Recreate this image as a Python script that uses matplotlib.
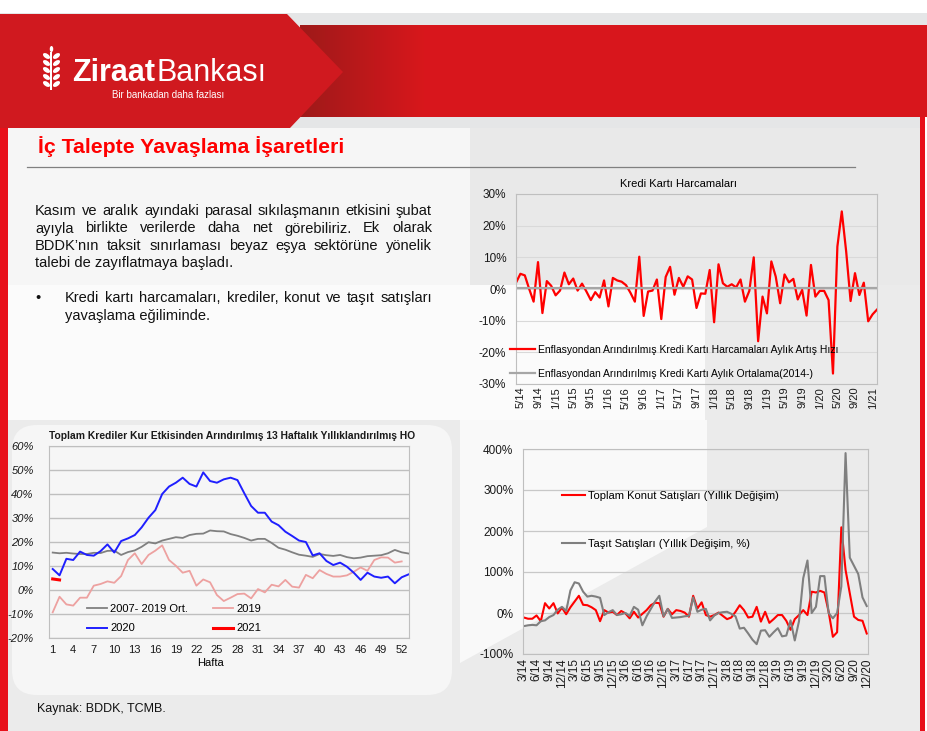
import matplotlib
matplotlib.use('Agg')
import matplotlib.pyplot as plt
import numpy as np
import pandas as pd
from matplotlib.patches import Polygon, Rectangle, Ellipse, FancyBboxPatch

plt.rcParams['font.family'] = ['Liberation Sans', 'DejaVu Sans']
plt.rcParams['axes.unicode_minus'] = False

W, H = 928, 731

# --- veri: kredi karti harcamalari (aylik, %) ---
kk_aylar = pd.period_range('2014-04', '2021-02', freq='M')
kk_harcama = [2.0, 4.8, 4.3, 0.0, -4.0, 8.5, -7.6, 2.5, 1.0, -2.0,
              -0.5, 5.2, 1.5, 3.3, -0.5, 1.7, -0.8, -3.5, -1.0, -2.7,
              2.7, -5.5, 3.5, 2.7, 2.3, 1.2, -1.2, -4.0, 10.2, -8.5,
              -0.8, -0.5, 3.0, -9.5, 3.8, 7.0, -1.8, 3.5, 0.7, 4.0,
              3.0, -6.0, -1.4, -1.5, 6.0, -10.5, 7.8, 1.8, 0.7, 1.5,
              0.5, 3.0, -4.0, -0.6, 10.0, -16.5, -2.4, -7.7, 8.7, 3.9,
              -4.5, 4.6, 2.1, 3.2, -3.3, -0.3, -8.4, 7.6, -2.4, -0.6,
              -0.6, -3.5, -26.7, 13.4, 24.5, 11.8, -3.8, 5.0, -1.9, 2.0,
              -10.2, -8.0, -6.5]
kk_ortalama = 0.3

# --- veri: toplam krediler, 13 haftalik yilliklandirilmis (%) ---
hafta = np.arange(1, 54)
kredi_ort = [15.6, 15.3, 15.5, 15.2, 15.0, 15.0, 15.5, 15.4, 16.3, 16.4,
             14.6, 15.8, 16.5, 18.0, 19.9, 19.4, 20.6, 21.3, 22.0, 21.7,
             22.9, 23.4, 23.5, 24.8, 24.5, 24.4, 23.3, 22.6, 21.7, 20.6,
             21.3, 21.3, 19.6, 17.6, 16.8, 15.7, 14.7, 14.3, 13.8, 15.0,
             14.5, 14.2, 14.6, 13.7, 13.2, 13.5, 14.1, 14.3, 14.5, 15.3,
             16.7, 15.7, 15.2]
kredi_2019 = [-9.3, -2.8, -6.0, -6.5, -3.2, -3.2, 1.8, 2.5, 3.6, 3.0,
              5.8, 12.5, 15.3, 10.8, 14.6, 16.4, 18.6, 12.5, 10.1, 7.2,
              8.0, 1.8, 4.4, 3.2, -2.1, -4.6, -3.2, -1.7, -1.5, -3.5,
              0.4, -1.0, 2.2, 1.5, 4.2, 1.4, 1.0, 6.3, 4.9, 8.3,
              6.7, 5.6, 5.6, 6.1, 7.6, 9.4, 8.0, 12.5, 13.6, 13.5,
              11.4, 11.9]
kredi_2020 = [8.75, 6.1, 13.0, 12.5, 16.0, 14.6, 14.3, 16.2, 19.0, 15.6,
              20.4, 21.5, 22.9, 26.1, 30.1, 33.3, 40.0, 43.1, 44.7, 46.8,
              44.2, 43.1, 49.0, 45.4, 44.7, 46.1, 46.8, 45.8, 40.3, 35.0,
              32.2, 32.2, 28.5, 27.0, 24.3, 22.5, 20.6, 20.0, 14.4, 15.3,
              12.1, 10.4, 11.4, 9.7, 7.2, 4.2, 7.2, 5.6, 5.1, 5.6,
              2.8, 5.3, 6.5]
kredi_2021 = [4.6, 4.2]

# --- veri: konut ve tasit satislari (yillik degisim, %) ---
sat_aylar = pd.period_range('2014-03', '2020-12', freq='M')
konut = [-11, -14, -14, -6, -20, 24, 11, 24, -1, 13,
         -3, 14, 28, 42, 20, 19, 14, 7, -20, 7,
         1, 3, -5, 5, -1, -13, 3, -11, -2, 7,
         19, 25, 24, -9, 10, -3, 7, 5, 1, -9,
         42, 11, 26, -5, -9, -5, 1, -7, -15, -11,
         3, 19, 7, -11, -9, 15, -21, 3, -24, -15,
         -5, -5, -19, -41, -15, -5, 7, -5, 52, 50,
         54, 50, 3, -58, -47, 209, 105, 48, -9, -17,
         -19, -50]
tasit = [-32, -30, -29, -30, -20, -18, -10, -5, 8, 15,
         5, 55, 75, 72, 52, 40, 42, 40, 37, -5,
         2, 7, -5, -3, 0, -7, 15, 8, -30, -8,
         10, 28, 42, -8, 10, -12, -11, -10, -8, -7,
         38, 3, 8, 10, -18, -6, 0, 2, 3, -2,
         -8, -38, -36, -50, -65, -76, -43, -42, -58, -47,
         -37, -57, -55, -18, -67, -20, 85, 128, 0, 15,
         90, 90, 0, -13, 0, 65, 390, 135, 115, 95,
         38, 17]

# Canvas
fig = plt.figure(figsize=(W / 100, H / 100), dpi=100)
bg = fig.add_axes([0, 0, 1, 1])
renderer = fig.canvas.get_renderer()


def box(x0, y0, x1, y1, color, z=0):
    bg.add_patch(Rectangle((x0, y0), x1 - x0, y1 - y0, color=color, lw=0, zorder=z))


def px_axes(x0, y0, x1, y1):
    return fig.add_axes([x0 / W, 1 - y1 / H, (x1 - x0) / W, (y1 - y0) / H])


def text_width(t):
    return t.get_window_extent(renderer).width


def justify(line, x0, x1, y, size):
    words = line.split()
    objs = [bg.text(0, y, w, fontsize=size, va='center', ha='left', color='#111111')
            for w in words]
    widths = [text_width(o) for o in objs]
    gap = (x1 - x0 - sum(widths)) / (len(words) - 1)
    x = x0
    for o, w in zip(objs, widths):
        o.set_x(x)
        x += w + gap


def fit_text(x, y, s, width, size, **kw):
    t = bg.text(x, y, s, fontsize=size, **kw)
    t.set_fontsize(size * width / text_width(t))
    return t


# Latar: header
box(0, 13, W, 128, '#e5e6e7')
grad = np.clip(np.linspace(0, 1, 400) * 5, 0, 1)
c0 = np.array([0.62, 0.10, 0.10])
c1 = np.array([0.85, 0.09, 0.11])
img = (c0[None, :] * (1 - grad[:, None]) + c1[None, :] * grad[:, None])[None, :, :]
bg.imshow(img, extent=[300, W, 117, 25], aspect='auto', zorder=1)
bg.add_patch(Polygon([(0, 14), (287, 14), (343, 72), (290, 128), (0, 128)],
                     closed=True, color='#d0191f', lw=0, zorder=2))

# logo gandum
bg.add_patch(Rectangle((50.5, 52), 2, 38, color='white', lw=0, zorder=3))
for yy in [56, 63, 70, 77, 84]:
    bg.add_patch(Ellipse((46.5, yy), 8, 4.5, angle=35, color='white', lw=0, zorder=3))
    bg.add_patch(Ellipse((56.5, yy), 8, 4.5, angle=-35, color='white', lw=0, zorder=3))
bg.add_patch(Ellipse((51.5, 49), 3.5, 6, color='white', lw=0, zorder=3))
t1 = bg.text(72, 81, 'Ziraat', fontsize=22, weight='bold', color='white',
             va='baseline', ha='left', zorder=4)
bg.text(72 + text_width(t1) + 2, 81, 'Bankası', fontsize=22, color='white',
        va='baseline', ha='left', zorder=4)
bg.text(112, 95, 'Bir bankadan daha fazlası', fontsize=7, color='white',
        va='center', ha='left', zorder=4)

# Latar: konten
box(0, 128, W, H, '#ebebeb')
box(8, 128, 470, 420, '#f6f6f6')
box(470, 128, 920, 285, '#e9e9e9')
box(8, 285, 705, 420, '#fbfbfb')
bg.add_patch(FancyBboxPatch((12, 425), 440, 270, boxstyle='round,pad=0,rounding_size=25',
                            color='#f6f6f6', lw=0))
bg.add_patch(Polygon([(460, 420), (707, 420), (707, 527), (460, 663)],
                     closed=True, color='#f9f9f9', lw=0))
box(0, 128, 8, H, '#e8101a', z=2)
box(920, 117, 925, H, '#e8101a', z=2)
box(925, 117, W, H, 'white', z=2)

# Judul dan teks
fit_text(38, 147, 'İç Talepte Yavaşlama İşaretleri', 305, 14.5,
         weight='bold', color='#ff0000', va='center', ha='left')
bg.plot([27, 855], [166.5, 166.5], color='#808080', lw=0.9)

justify('Kasım ve aralık ayındaki parasal sıkılaşmanın etkisini şubat', 35, 432, 211, 10.5)
justify('ayıyla birlikte verilerde daha net görebiliriz. Ek olarak', 35, 432, 228.5, 10.5)
justify('BDDK’nın taksit sınırlaması beyaz eşya sektörüne yönelik', 35, 432, 246, 10.5)
bg.text(35, 263.5, 'talebi de zayıflatmaya başladı.', fontsize=10.5, va='center', color='#111111')
bg.text(35, 298, '•', fontsize=10.5, va='center', color='#111111')
justify('Kredi kartı harcamaları, krediler, konut ve taşıt satışları', 65, 432, 298, 10.5)
bg.text(65, 316, 'yavaşlama eğiliminde.', fontsize=10.5, va='center', color='#111111')
bg.text(37, 709, 'Kaynak: BDDK, TCMB.', fontsize=9, va='center', color='#111111')


def style_axes(ax, ypad):
    ax.set_facecolor('none')
    for s in ax.spines.values():
        s.set_color('#bfbfbf')
        s.set_linewidth(0.8)
    ax.tick_params(length=0, colors='#1a1a1a')
    ax.tick_params(axis='y', pad=ypad)
    ax.set_axisbelow(True)


# Grafik 1: Kredi Karti Harcamalari
ax1 = px_axes(516, 194, 877, 384)
x1 = np.arange(len(kk_harcama))
l1, = ax1.plot(x1, kk_harcama, color='#ff0000', lw=1.6)
l2, = ax1.plot(x1, [kk_ortalama] * len(x1), color='#a6a6a6', lw=1.6)
ax1.set_xlim(0, len(x1) - 1)
ax1.set_ylim(-30, 30)
ax1.set_yticks(range(-30, 31, 10))
ax1.set_yticklabels([f'{v}%' for v in range(-30, 31, 10)], fontsize=8.5)
ax1.set_xticks(x1[1::4])
ax1.set_xticklabels([f'{p.month}/{p.year % 100}' for p in kk_aylar[1::4]],
                    rotation=90, fontsize=8)
ax1.grid(axis='y', color='#d9d9d9', lw=0.8)
style_axes(ax1, 7)
ax1.tick_params(axis='x', pad=2)
bg.text(679, 184, 'Kredi Kartı Harcamaları', fontsize=8, ha='center', va='center')
ax1.legend([l1, l2], ['Enflasyondan Arındırılmış Kredi Kartı Harcamaları Aylık Artış Hızı',
                      'Enflasyondan Arındırılmış Kredi Kartı Aylık Ortalama(2014-)'],
           loc='upper left', bbox_to_anchor=(510, 345), bbox_transform=bg.transData,
           frameon=False, fontsize=7.5, handlelength=2.4, handletextpad=0.25,
           labelspacing=1.35, borderpad=0, borderaxespad=0)

# Grafik 2: Toplam Krediler
ax2 = px_axes(49, 446, 409, 638)
g1, = ax2.plot(hafta, kredi_ort, color='#808080', lw=1.3)
g2, = ax2.plot(hafta[:len(kredi_2019)], kredi_2019, color='#eda1a0', lw=1.3)
g3, = ax2.plot(hafta, kredi_2020, color='#1f1fff', lw=1.4)
g4, = ax2.plot(hafta[:len(kredi_2021)], kredi_2021, color='#ff0000', lw=2.2)
ax2.set_xlim(0.46, 53.07)
ax2.set_ylim(-20, 60)
ax2.set_yticks(range(-20, 61, 10))
ax2.set_yticklabels([f'{v}%' for v in range(-20, 61, 10)], fontsize=8, fontstyle='italic')
ax2.set_xticks(range(1, 53, 3))
ax2.set_xticklabels([str(v) for v in range(1, 53, 3)], fontsize=8)
ax2.grid(axis='y', color='#bfbfbf', lw=1.0)
style_axes(ax2, 11)
ax2.tick_params(axis='x', pad=5)
bg.text(211, 663, 'Hafta', fontsize=8, ha='center', va='center')
fit_text(49, 436, 'Toplam Krediler Kur Etkisinden Arındırılmış 13 Haftalık Yıllıklandırılmış HO',
         364, 6.5, weight='bold', va='center', ha='left', color='#1a1a1a')
ax2.legend([g1, g3, g2, g4], ['2007- 2019 Ort.', '2020', '2019', '2021'], ncol=2,
           loc='upper left', bbox_to_anchor=(87, 604), bbox_transform=bg.transData,
           frameon=False, fontsize=8, handlelength=1.8, handletextpad=0.3,
           labelspacing=0.85, columnspacing=2.2, borderpad=0, borderaxespad=0)

# Grafik 3: Konut ve Tasit Satislari
ax3 = px_axes(523, 449, 868, 654)
x3 = np.arange(len(konut))
r1, = ax3.plot(x3, konut, color='#ff0000', lw=1.5)
r2, = ax3.plot(x3, tasit, color='#7f7f7f', lw=1.5)
ax3.set_xlim(-0.2, len(x3) - 0.7)
ax3.set_ylim(-100, 400)
ax3.set_yticks(range(-100, 401, 100))
ax3.set_yticklabels([f'{v}%' for v in range(-100, 401, 100)], fontsize=8.5)
ax3.set_xticks(x3[::3])
ax3.set_xticklabels([f'{p.month}/{p.year % 100}' for p in sat_aylar[::3]],
                    rotation=90, fontsize=8.5)
ax3.grid(axis='y', color='#c8c8c8', lw=0.9)
style_axes(ax3, 7)
ax3.tick_params(axis='x', pad=3)
ax3.legend([r1, r2], ['Toplam Konut Satışları (Yıllık Değişim)',
                      'Taşıt Satışları (Yıllık Değişim, %)'],
           loc='upper left', bbox_to_anchor=(562, 491), bbox_transform=bg.transData,
           frameon=False, fontsize=8, handlelength=2.1, handletextpad=0.2,
           labelspacing=3.4, borderpad=0, borderaxespad=0)

bg.set_xlim(0, W)
bg.set_ylim(H, 0)
bg.axis('off')

plt.savefig('out.png', dpi=100)
